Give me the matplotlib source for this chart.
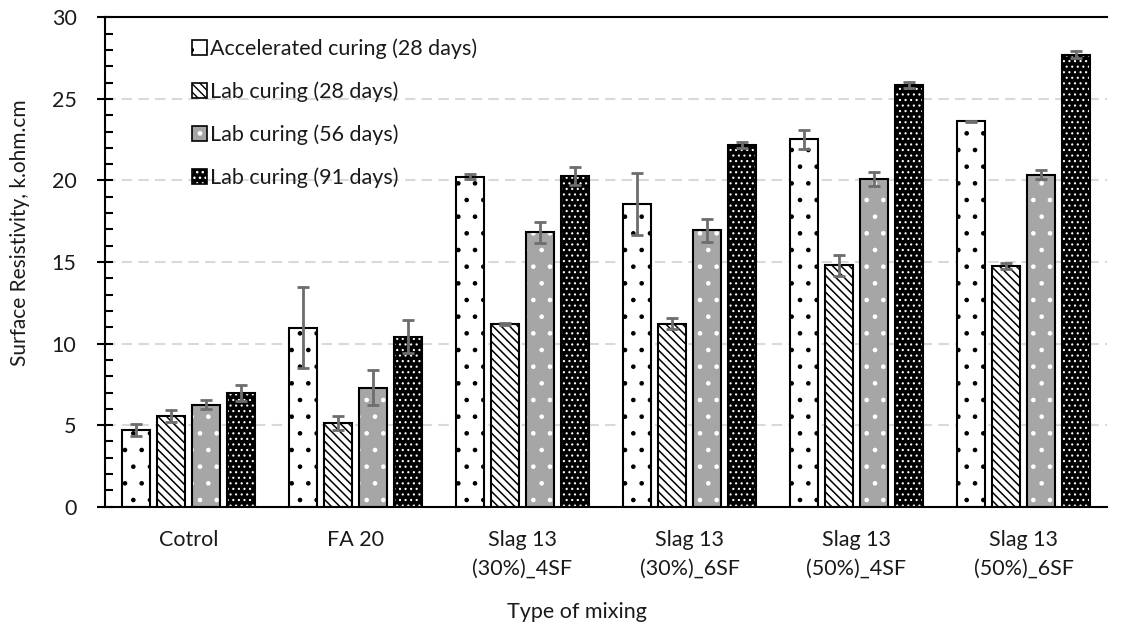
import matplotlib
matplotlib.use("Agg")
import matplotlib.pyplot as plt
import numpy as np
from matplotlib.patches import Patch

plt.rcParams['font.family'] = ['Lato', 'DejaVu Sans']

categories = ["Cotrol", "FA 20", "Slag 13\n(30%)_4SF", "Slag 13\n(30%)_6SF",
              "Slag 13\n(50%)_4SF", "Slag 13\n(50%)_6SF"]
series_names = ["Accelerated curing (28 days)", "Lab curing (28 days)",
                "Lab curing (56 days)", "Lab curing (91 days)"]
acc28 = [4.7, 10.96, 20.22, 18.58, 22.51, 23.62]
acc28_err = [0.35, 2.48, 0.15, 1.9, 0.58, 0.05]
lab28 = [5.57, 5.14, 11.2, 11.22, 14.8, 14.75]
lab28_err = [0.38, 0.45, 0.08, 0.32, 0.65, 0.18]
lab56 = [6.25, 7.3, 16.82, 16.95, 20.1, 20.34]
lab56_err = [0.28, 1.05, 0.66, 0.7, 0.43, 0.28]
lab91 = [6.95, 10.42, 20.3, 22.15, 25.83, 27.72]
lab91_err = [0.48, 1.02, 0.55, 0.18, 0.18, 0.23]

values = [acc28, lab28, lab56, lab91]
errors = [acc28_err, lab28_err, lab56_err, lab91_err]
styles = [  # facecolor, hatch color, hatch, hatch linewidth
    ("white", "black", ".", 0.9),
    ("white", "black", "\\\\\\\\", 1.1),
    ("#a6a6a6", "white", ".", 0.9),
    ("black", "white", "...", 0.8),
]


def hatched_patch(patch, hlw):
    if hasattr(patch, "set_hatch_linewidth"):
        patch.set_hatch_linewidth(hlw)


fig = plt.figure(figsize=(11.23, 6.23), dpi=100)
ax = fig.add_axes([0.0935, 0.1867, 0.8923, 0.7855])

x = np.arange(len(categories))
pitch = 0.21
width = 0.168
text_color = "#1a1a1a"
fs = 15.5
for i, (vals, errs, (fc, hc, h, hlw)) in enumerate(zip(values, errors, styles)):
    pos = x + (i - 1.5) * pitch
    with plt.rc_context({"hatch.linewidth": hlw}):
        bars = ax.bar(pos, vals, width, color=fc, edgecolor=hc, hatch=h, linewidth=0, zorder=2)
        for b in bars:
            hatched_patch(b, hlw)
    ax.bar(pos, vals, width, fill=False, edgecolor="black", linewidth=1.5, zorder=3)
    ax.errorbar(pos, vals, yerr=errs, fmt="none", ecolor="#6d6d6d", elinewidth=2,
                capsize=4.5, capthick=2, zorder=4)

ax.set_xlim(-0.5, 5.5)
ax.set_ylim(0, 30)
ax.set_yticks(np.arange(0, 31, 5))
ax.set_yticks(np.arange(0, 31, 1), minor=True)
ax.set_xticks(x)
ax.set_xticklabels(categories, fontsize=fs, color=text_color, linespacing=1.55)
ax.tick_params(axis="x", length=0, pad=17)
ax.tick_params(axis="y", which="major", direction="inout", length=12, width=1.5,
               labelsize=fs, labelcolor=text_color, pad=14.5)
ax.tick_params(axis="y", which="minor", direction="in", length=6, width=1.5)

for yv in range(5, 30, 5):
    ax.axhline(yv, color="#d9d9d9", lw=1.5, ls=(0, (5, 3)), zorder=1)

ax.spines["right"].set_visible(False)
for s in ["left", "bottom", "top"]:
    ax.spines[s].set_linewidth(1.5)
    ax.spines[s].set_color("black")

ax.set_ylabel("Surface Resistivity, k.ohm.cm", fontsize=15, color=text_color)
ax.yaxis.set_label_coords(-0.075, 0.56)
ax.set_xlabel("Type of mixing", fontsize=fs, color=text_color)
ax.xaxis.set_label_coords(0.471, -0.195)

handles = []
for fc, hc, h, hlw in styles:
    with plt.rc_context({"hatch.linewidth": hlw}):
        p = Patch(facecolor=fc, edgecolor=hc, hatch=h, linewidth=0)
        hatched_patch(p, hlw)
    handles.append((p, Patch(fill=False, edgecolor="black", linewidth=1.2)))
leg = ax.legend(handles, series_names, loc="upper left", bbox_to_anchor=(0.078, 0.975),
                frameon=False, fontsize=fs, handlelength=0.7, handleheight=0.7,
                handletextpad=0.15, labelspacing=1.05, borderaxespad=0)
for t in leg.get_texts():
    t.set_color(text_color)

fig.savefig("out.png", dpi=100)
